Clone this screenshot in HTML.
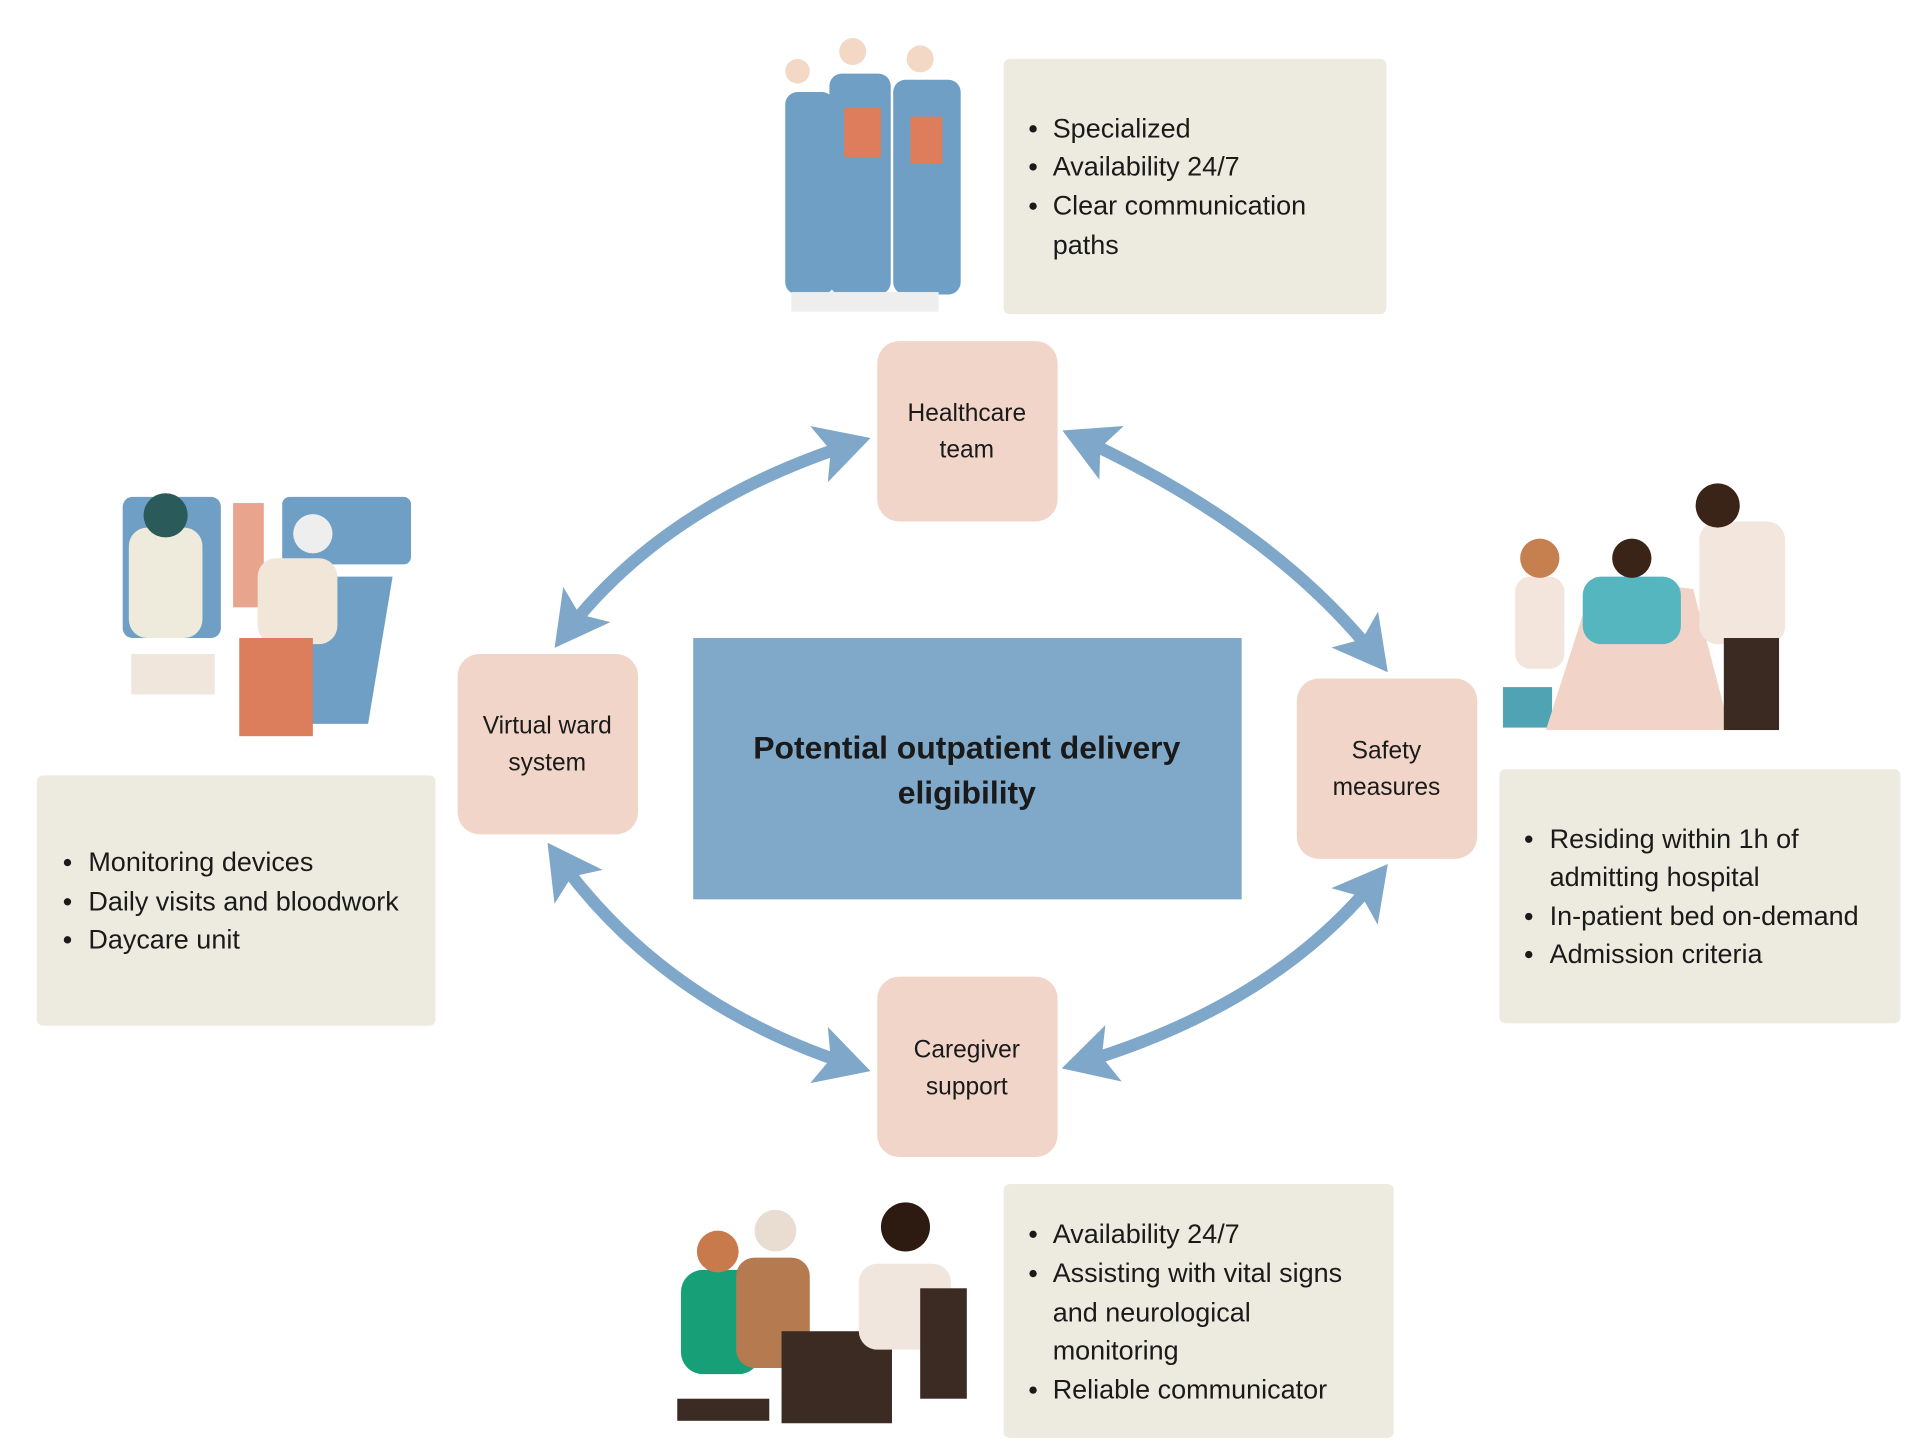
<!DOCTYPE html>
<html><head><meta charset="utf-8"><style>
html,body{margin:0;padding:0;background:#fff}
svg{display:block}
text{font-family:"Liberation Sans",sans-serif;fill:#1a1a1a}
</style></head><body>
<svg width="1914" height="1451" viewBox="0 0 1560 1182.6" xmlns="http://www.w3.org/2000/svg">
<defs>
<marker id="ah" markerUnits="userSpaceOnUse" markerWidth="60" markerHeight="60" refX="34" refY="24" orient="auto-start-reverse" viewBox="0 0 60 60">
<path d="M0,0 L44,24 L0,48 L10,24 z" fill="#7fa7c9"/>
</marker>
</defs>
<!-- info boxes -->
<rect x="818" y="48" width="312" height="208" rx="5" fill="#edebe0"/>
<rect x="30" y="632" width="325" height="204" rx="5" fill="#edebe0"/>
<rect x="1222" y="627" width="327" height="207" rx="5" fill="#edebe0"/>
<rect x="818" y="965" width="318" height="207" rx="5" fill="#edebe0"/>
<!-- center -->
<rect x="565" y="520" width="447" height="213" fill="#7fa8c9"/>
<text x="788" y="618" text-anchor="middle" font-size="26" font-weight="bold">Potential outpatient delivery</text>
<text x="788" y="655" text-anchor="middle" font-size="26" font-weight="bold">eligibility</text>
<!-- arrows -->
<g fill="none" stroke="#7fa7c9" stroke-width="10" marker-start="url(#ah)" marker-end="url(#ah)">
<path d="M700,360 Q540,410 458,520"/>
<path d="M875,355 Q1040,430 1125,540"/>
<path d="M452,695 Q540,820 700,870"/>
<path d="M1125,712 Q1040,820 875,868"/>
</g>
<!-- nodes -->
<g fill="#f0d5c8">
<rect x="715" y="278" width="147" height="147" rx="18"/>
<rect x="373" y="533" width="147" height="147" rx="18"/>
<rect x="1057" y="553" width="147" height="147" rx="18"/>
<rect x="715" y="796" width="147" height="147" rx="18"/>
</g>
<g font-size="20" text-anchor="middle">
<text x="788" y="343">Healthcare</text><text x="788" y="373">team</text>
<text x="446" y="598">Virtual ward</text><text x="446" y="628">system</text>
<text x="1130" y="618">Safety</text><text x="1130" y="648">measures</text>
<text x="788" y="862">Caregiver</text><text x="788" y="892">support</text>
</g>
<!-- bullets -->
<g font-size="22">
<text x="858" y="112">Specialized</text>
<text x="858" y="143">Availability 24/7</text>
<text x="858" y="175">Clear communication</text>
<text x="858" y="207">paths</text>
<text x="72" y="710">Monitoring devices</text>
<text x="72" y="742">Daily visits and bloodwork</text>
<text x="72" y="773">Daycare unit</text>
<text x="1263" y="691">Residing within 1h of</text>
<text x="1263" y="722">admitting hospital</text>
<text x="1263" y="754">In-patient bed on-demand</text>
<text x="1263" y="785">Admission criteria</text>
<text x="858" y="1013">Availability 24/7</text>
<text x="858" y="1045">Assisting with vital signs</text>
<text x="858" y="1077">and neurological</text>
<text x="858" y="1108">monitoring</text>
<text x="858" y="1140">Reliable communicator</text>
</g>
<g fill="#1a1a1a">
<circle cx="842" cy="105" r="3"/><circle cx="842" cy="136" r="3"/><circle cx="842" cy="168" r="3"/>
<circle cx="55" cy="703" r="3"/><circle cx="55" cy="735" r="3"/><circle cx="55" cy="766" r="3"/>
<circle cx="1246" cy="684" r="3"/><circle cx="1246" cy="747" r="3"/><circle cx="1246" cy="778" r="3"/>
<circle cx="842" cy="1006" r="3"/><circle cx="842" cy="1038" r="3"/><circle cx="842" cy="1133" r="3"/>
</g>
<!-- illustration: healthcare team -->
<g>
<rect x="640" y="75" width="40" height="165" rx="10" fill="#6f9fc4"/>
<rect x="676" y="60" width="50" height="180" rx="10" fill="#6f9fc4"/>
<rect x="728" y="65" width="55" height="175" rx="10" fill="#6f9fc4"/>
<circle cx="650" cy="58" r="10" fill="#f2d8c5"/><circle cx="695" cy="42" r="11" fill="#f2d8c5"/><circle cx="750" cy="48" r="11" fill="#f2d8c5"/>
<rect x="688" y="88" width="30" height="40" fill="#de7d5c"/><rect x="742" y="95" width="26" height="38" fill="#de7d5c"/>
<rect x="645" y="238" width="120" height="16" fill="#eee"/>
</g>
<!-- illustration: virtual ward -->
<g>
<rect x="100" y="405" width="80" height="115" rx="8" fill="#6f9fc4"/>
<rect x="230" y="405" width="105" height="55" rx="6" fill="#6f9fc4"/>
<rect x="190" y="410" width="25" height="85" fill="#e8a48c"/>
<rect x="105" y="430" width="60" height="90" rx="15" fill="#eeeadc"/>
<circle cx="135" cy="420" r="18" fill="#2a5a5a"/>
<path d="M230,470 L320,470 L300,590 L230,590 z" fill="#6f9fc4"/>
<rect x="210" y="455" width="65" height="70" rx="15" fill="#f1e6d8"/>
<rect x="195" y="520" width="60" height="80" fill="#dc7d5c"/>
<circle cx="255" cy="435" r="16" fill="#eee"/>
<rect x="107" y="533" width="68" height="33" fill="#f0e6dc"/>
</g>
<!-- illustration: safety -->
<g>
<rect x="1225" y="560" width="40" height="33" fill="#4fa3b3"/>
<path d="M1260,595 L1300,470 L1380,480 L1410,595 z" fill="#f1d4c7"/>
<rect x="1290" y="470" width="80" height="55" rx="15" fill="#56b6c0"/>
<circle cx="1330" cy="455" r="16" fill="#3a2418"/>
<rect x="1235" y="470" width="40" height="75" rx="12" fill="#f3e5dc"/>
<circle cx="1255" cy="455" r="16" fill="#c67f4f"/>
<rect x="1385" y="425" width="70" height="100" rx="15" fill="#f2e6dd"/>
<rect x="1405" y="520" width="45" height="75" fill="#3a2a22"/>
<circle cx="1400" cy="412" r="18" fill="#3a2418"/>
</g>
<!-- illustration: caregiver -->
<g>
<rect x="555" y="1035" width="65" height="85" rx="18" fill="#17a078"/>
<circle cx="585" cy="1020" r="17" fill="#c97a4c"/>
<rect x="600" y="1025" width="60" height="90" rx="15" fill="#b57a50"/>
<circle cx="632" cy="1003" r="17" fill="#e8ddd0"/>
<rect x="637" y="1085" width="90" height="75" fill="#3b2b22"/>
<rect x="700" y="1030" width="75" height="70" rx="15" fill="#f1e6dd"/>
<circle cx="738" cy="1000" r="20" fill="#2d1b12"/>
<rect x="750" y="1050" width="38" height="90" fill="#3b2b22"/>
<rect x="552" y="1140" width="75" height="18" fill="#3b2b22"/>
</g>
</svg>
</body></html>
